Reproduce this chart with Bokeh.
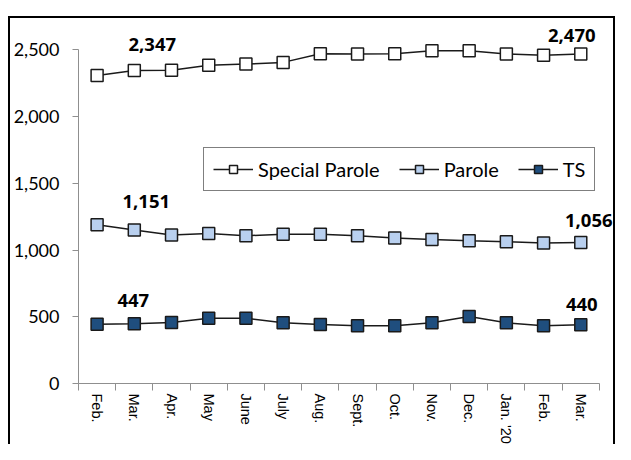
import math
from bokeh.plotting import figure
from bokeh.models import (ColumnDataSource, Range1d, FixedTicker, NumeralTickFormatter,
                          Legend, LegendItem, LabelSet)
from bokeh.core.properties import value
from bokeh.embed import file_html
from bokeh.resources import INLINE

# ---- data ----
months = ["Feb.", "Mar.", "Apr.", "May", "June", "July", "Aug.", "Sept.",
          "Oct.", "Nov.", "Dec.", "Jan. '20", "Feb.", "Mar."]
special_parole = [2309, 2347, 2348, 2386, 2394, 2407, 2471, 2470, 2472, 2494, 2494, 2470, 2460, 2470]
parole = [1190, 1151, 1113, 1125, 1108, 1118, 1118, 1108, 1090, 1080, 1070, 1062, 1054, 1056]
ts = [445, 447, 458, 489, 489, 455, 443, 432, 432, 455, 502, 455, 432, 440]
y_ticks = [0, 500, 1000, 1500, 2000, 2500]
series_names = ["Special Parole", "Parole", "TS"]
labelled_idx = [1, 13]

# ---- styles ----
fills = ["#ffffff", "#b9d0ef", "#1f4e7e"]
label_dx = [[18, -9], [12, 8], [-1, 1]]
label_dy = [[26, 18], [28, 22], [23, 20]]
AXIS_GRAY = "#8f8f8f"

x = list(range(len(months)))

p = figure(width=607, height=428, output_backend="svg", toolbar_location=None,
           x_range=Range1d(-0.5, 13.96), y_range=Range1d(0, 2676),
           min_border_left=68, min_border_right=1, min_border_top=8, min_border_bottom=61)
p.margin = (16, 0, 0, 8)
p.styles = {"border-top": "2px solid black", "border-left": "2px solid black",
            "border-right": "2px solid black"}
p.outline_line_color = None
p.grid.visible = False
p.background_fill_color = "white"
p.border_fill_color = "white"

# y axis
ya = p.yaxis[0]
ya.ticker = FixedTicker(ticks=y_ticks)
ya.formatter = NumeralTickFormatter(format="0,0")
ya.bounds = (0, 2500)
ya.axis_line_color = AXIS_GRAY
ya.major_tick_line_color = AXIS_GRAY
ya.major_tick_out = 6
ya.major_tick_in = 0
ya.minor_tick_out = 0
ya.minor_tick_in = 0
ya.major_label_standoff = 13
ya.major_label_text_font = "Lato"
ya.major_label_text_font_size = "18px"
ya.major_label_text_color = "black"

# x axis
xa = p.xaxis[0]
xa.ticker = FixedTicker(ticks=x, minor_ticks=[i - 0.5 for i in range(len(months) + 1)])
xa.major_label_overrides = {i: m for i, m in enumerate(months)}
xa.bounds = (-0.5, len(months) - 0.5)
xa.axis_line_color = AXIS_GRAY
xa.major_tick_out = 0
xa.major_tick_in = 0
xa.minor_tick_out = 7
xa.minor_tick_in = 0
xa.minor_tick_line_color = AXIS_GRAY
xa.major_label_orientation = -math.pi / 2
xa.major_label_standoff = 3
xa.major_label_text_font = "Liberation Sans"
xa.major_label_text_font_size = "14.5px"
xa.major_label_text_color = "black"

items = []
for name, vals, fill, dxs, dys in zip(series_names, [special_parole, parole, ts], fills, label_dx, label_dy):
    src = ColumnDataSource(dict(x=x, y=vals))
    ln = p.line("x", "y", source=src, line_color="#1a1a1a", line_width=1.5)
    sc = p.scatter("x", "y", source=src, marker="square", size=12,
                   fill_color=fill, line_color="#1a1a1a", line_width=1.5)
    items.append(LegendItem(label=name, renderers=[ln, sc]))
    lsrc = ColumnDataSource(dict(
        x=[x[i] for i in labelled_idx],
        y=[vals[i] for i in labelled_idx],
        t=[f"{vals[i]:,}" for i in labelled_idx],
        dx=dxs, dy=dys))
    p.add_layout(LabelSet(x="x", y="y", text="t", source=lsrc, x_offset="dx", y_offset="dy",
                          text_align="center", text_baseline="middle",
                          text_font=value("Open Sans"), text_font_style="bold",
                          text_font_size="18.5px", text_color="black"))

legend = Legend(items=items, orientation="horizontal", location=(125, 192),
                glyph_width=40, glyph_height=20, label_standoff=5, spacing=19, padding=9,
                label_text_font="Lato", label_text_font_size="20px", label_text_color="black",
                border_line_color="black", border_line_width=1.5,
                background_fill_color="white", background_fill_alpha=1.0)
p.add_layout(legend, "center")

open("out.html", "w").write(file_html(p, INLINE))
